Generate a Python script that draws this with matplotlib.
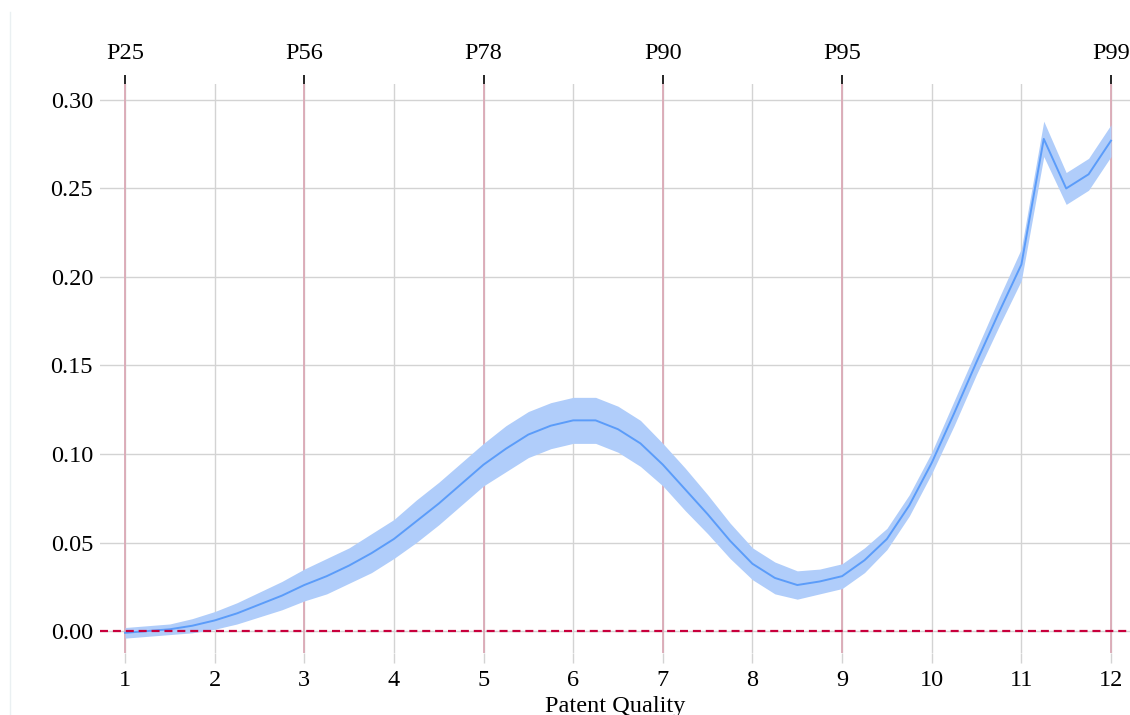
import matplotlib
matplotlib.use("Agg")
import matplotlib.pyplot as plt
from matplotlib.lines import Line2D

plt.rcParams['font.family'] = ['Liberation Serif', 'DejaVu Serif']

quality = [1 + 0.25 * i for i in range(45)]
estimate = [-0.001, 0.000, 0.001, 0.003, 0.006, 0.010, 0.015, 0.020, 0.026,
            0.031, 0.037, 0.044, 0.052, 0.062, 0.072, 0.083, 0.094, 0.103,
            0.111, 0.116, 0.119, 0.119, 0.114, 0.106, 0.094, 0.080, 0.066,
            0.051, 0.038, 0.030, 0.026, 0.028, 0.031, 0.040, 0.052, 0.071,
            0.095, 0.123, 0.152, 0.180, 0.207, 0.278, 0.250, 0.258, 0.277]
half_width = [0.003, 0.003, 0.003, 0.004, 0.005, 0.006, 0.007, 0.008, 0.009,
              0.010, 0.010, 0.011, 0.011, 0.012, 0.012, 0.012, 0.012, 0.013,
              0.013, 0.013, 0.013, 0.013, 0.013, 0.013, 0.012, 0.012, 0.011,
              0.010, 0.009, 0.009, 0.008, 0.007, 0.007, 0.007, 0.006, 0.006,
              0.006, 0.007, 0.007, 0.008, 0.009, 0.010, 0.009, 0.009, 0.009]
lower = [e - h for e, h in zip(estimate, half_width)]
upper = [e + h for e, h in zip(estimate, half_width)]

pct_pos = [1, 3, 5, 7, 9, 12]
pct_labels = ['P25', 'P56', 'P78', 'P90', 'P95', 'P99']
x_ticks = list(range(1, 13))
y_ticks = [0.00, 0.05, 0.10, 0.15, 0.20, 0.25, 0.30]

FS = 17.5

fig = plt.figure(figsize=(11.3, 7.15), dpi=100)
ax = fig.add_axes([100 / 1130, 1 - 653 / 715, 1 - 100 / 1130, (653 - 84) / 715])

ax.set_xlim(0.721, 12.212)
ax.set_ylim(-0.0124, 0.309)

for s in ax.spines.values():
    s.set_visible(False)

ax.set_xticks(x_ticks)
ax.set_yticks(y_ticks)
ax.set_yticklabels([f'{v:.2f}' for v in y_ticks])
ax.grid(True, color='#d3d3d3', linewidth=1.0)
ax.set_axisbelow(True)
ax.tick_params(axis='y', length=0, pad=5, labelsize=FS)
ax.tick_params(axis='x', length=7, color='#d3d3d3', width=1, pad=5, labelsize=FS)

for p in pct_pos:
    ax.axvline(p, color='#dba9b6', linewidth=1.3, zorder=1)

ax.axhline(0, color='#c8003c', linestyle=(0, (3.6, 2.2)), linewidth=1.6, zorder=4)

ax.fill_between(quality, lower, upper, color='#b0cdfa', linewidth=0, zorder=2)
ax.plot(quality, estimate, color='#5b9cf9', linewidth=1.4, zorder=3)

ax.set_xlabel('Patent Quality', fontsize=FS, labelpad=3.5)

sec = ax.secondary_xaxis('top')
sec.set_xticks(pct_pos)
sec.set_xticklabels(pct_labels)
sec.tick_params(axis='x', length=6.5, width=1.2, color='black', pad=8, labelsize=FS)
for s in sec.spines.values():
    s.set_visible(False)

fig.add_artist(Line2D([10 / 1130, 10 / 1130], [0, 1 - 12 / 715],
                      transform=fig.transFigure, color='#eaf0f2', linewidth=1))

fig.savefig('out.png', dpi=100)
